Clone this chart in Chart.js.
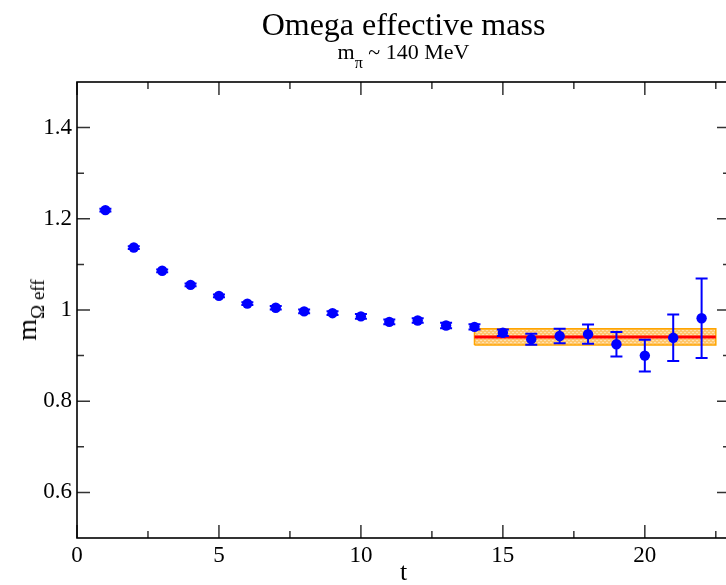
<!DOCTYPE html>
<html>
<head>
<meta charset="utf-8">
<script src="https://cdn.jsdelivr.net/npm/chart.js@4.4.1/dist/chart.umd.min.js"></script>
<style>
  html, body { margin:0; padding:0; background:#fff; overflow:hidden; }
  #wrap { position:relative; width:726px; height:585px; overflow:hidden; background:#fff; }
  #cv { position:absolute; left:0; top:0; }
  .txt { position:absolute; font-family:"Liberation Serif","Times New Roman",serif; color:#000; white-space:nowrap; }
  #title { left:0; width:807px; text-align:center; top:8px; font-size:32px; line-height:32px; }
  #subtitle { left:0; width:807px; text-align:center; top:41px; font-size:22px; line-height:22px; }
  #subtitle sub { font-size:16px; vertical-align:-9px; line-height:0; }
  #xlabel { left:0; width:807px; text-align:center; top:559px; font-size:26px; line-height:26px; }
  #ylabel { left:27px; top:310px; font-size:28px; line-height:28px; transform:translate(-50%,-50%) rotate(-90deg); }
  #ylabel sub { font-size:19px; vertical-align:-8px; line-height:0; }
</style>
</head>
<body>
<div id="wrap">
  <canvas id="cv" width="740" height="585" style="width:740px;height:585px"></canvas>
  <div class="txt" id="title">Omega effective mass</div>
  <div class="txt" id="subtitle">m<sub>π</sub> ~ 140 MeV</div>
  <div class="txt" id="xlabel">t</div>
  <div class="txt" id="ylabel">m<sub>Ω eff</sub></div>
</div>
<script>
// ---- data ----
const tValues = [1,2,3,4,5,6,7,8,9,10,11,12,13,14,15,16,17,18,19,20,21,22];
const mEff    = [1.219,1.137,1.086,1.055,1.031,1.014,1.005,0.997,0.993,0.986,0.974,0.977,0.966,0.963,0.950,0.936,0.943,0.947,0.925,0.900,0.939,0.982];
const mErr    = [0.003,0.003,0.003,0.003,0.003,0.003,0.004,0.004,0.004,0.005,0.005,0.005,0.006,0.006,0.007,0.012,0.016,0.021,0.027,0.035,0.051,0.087];
const fitRange = [14, 22.5];
const fitValue = 0.941;
const fitLow   = 0.923;
const fitHigh  = 0.959;
const xMajorTicks = [0,5,10,15,20];
const xMinorTicks = [2.5,7.5,12.5,17.5,22.5];
const yMajorTicks = [0.6,0.8,1.0,1.2,1.4];
const yMinorTicks = [0.7,0.9,1.1,1.3];
const yTickLabels = ["0.6","0.8","1","1.2","1.4"];
const xTickLabels = ["0","5","10","15","20"];
const xRange = [0, 23];
const yRange = [0.5, 1.5];

// band fill pattern
function makePattern() {
  const p = document.createElement('canvas');
  p.width = 4; p.height = 4;
  const c = p.getContext('2d');
  c.fillStyle = '#FFC76E';
  c.fillRect(0,0,4,4);
  c.fillStyle = '#FFE2B0';
  c.fillRect(0,0,2,1);
  c.fillRect(2,2,2,1);
  return c.createPattern(p, 'repeat');
}

const pts = tValues.map((t,i)=>({x:t, y:mEff[i]}));

const errorBars = {
  id:'errorBars',
  afterDatasetsDraw(chart) {
    const xs = chart.scales.x, ys = chart.scales.y, ctx = chart.ctx;
    ctx.save();
    ctx.strokeStyle = '#0000FF';
    ctx.lineWidth = 2;
    const cap = 6;
    tValues.forEach((t,i)=>{
      const px = xs.getPixelForValue(t);
      const top = ys.getPixelForValue(mEff[i]+mErr[i]);
      const bot = ys.getPixelForValue(mEff[i]-mErr[i]);
      ctx.beginPath();
      ctx.moveTo(px, top); ctx.lineTo(px, bot);
      ctx.moveTo(px-cap, top); ctx.lineTo(px+cap, top);
      ctx.moveTo(px-cap, bot); ctx.lineTo(px+cap, bot);
      ctx.stroke();
    });
    ctx.restore();
  }
};

const frameTicks = {
  id:'frameTicks',
  afterDraw(chart) {
    const a = chart.chartArea, xs = chart.scales.x, ys = chart.scales.y, ctx = chart.ctx;
    ctx.save();
    ctx.strokeStyle = '#333';
    ctx.lineWidth = 1.5;
    ctx.beginPath();
    const major = 13, minor = 7;
    xMajorTicks.forEach(v=>{ const p = xs.getPixelForValue(v);
      ctx.moveTo(p,a.bottom); ctx.lineTo(p,a.bottom-major);
      ctx.moveTo(p,a.top); ctx.lineTo(p,a.top+major); });
    xMinorTicks.forEach(v=>{ const p = xs.getPixelForValue(v);
      ctx.moveTo(p,a.bottom); ctx.lineTo(p,a.bottom-minor);
      ctx.moveTo(p,a.top); ctx.lineTo(p,a.top+minor); });
    yMajorTicks.forEach(v=>{ const p = ys.getPixelForValue(v);
      ctx.moveTo(a.left,p); ctx.lineTo(a.left+major,p);
      ctx.moveTo(a.right,p); ctx.lineTo(a.right-major,p); });
    yMinorTicks.forEach(v=>{ const p = ys.getPixelForValue(v);
      ctx.moveTo(a.left,p); ctx.lineTo(a.left+minor,p);
      ctx.moveTo(a.right,p); ctx.lineTo(a.right-minor,p); });
    ctx.stroke();
    ctx.strokeStyle = '#000';
    ctx.lineWidth = 1.6;
    ctx.strokeRect(a.left, a.top, a.right-a.left, a.bottom-a.top);
    ctx.restore();
  }
};

const ctx = document.getElementById('cv').getContext('2d');
new Chart(ctx, {
  type:'scatter',
  data:{
    datasets:[
      { label:'m_eff', data:pts, pointRadius:5.2, pointHoverRadius:5.2, pointBackgroundColor:'#0000FF', pointBorderColor:'#0000FF', pointBorderWidth:0, showLine:false },
      { label:'fit', data:fitRange.map(x=>({x, y:fitValue})), showLine:true, borderColor:'#FF0000', borderWidth:3, pointRadius:0, fill:false },
      { label:'band edge', data:[{x:fitRange[0],y:fitLow},{x:fitRange[0],y:fitHigh},{x:fitRange[1],y:fitHigh},{x:fitRange[1],y:fitLow},{x:fitRange[0],y:fitLow}], showLine:true, borderColor:'#FFA500', borderWidth:1.5, pointRadius:0, fill:false, tension:0 },
      { label:'band hi', data:fitRange.map(x=>({x, y:fitHigh})), showLine:true, borderWidth:0, borderColor:'rgba(0,0,0,0)', pointRadius:0, fill:'+1', backgroundColor:makePattern() },
      { label:'band lo', data:fitRange.map(x=>({x, y:fitLow})), showLine:true, borderWidth:0, borderColor:'rgba(0,0,0,0)', pointRadius:0, fill:false }
    ]
  },
  options:{
    responsive:false,
    animation:false,
    devicePixelRatio:1,
    layout:{ padding:{ left:0, top:82, right:10, bottom:0 } },
    plugins:{ legend:{display:false}, tooltip:{enabled:false}, title:{display:false} },
    scales:{
      x:{
        type:'linear', min:xRange[0], max:xRange[1],
        grid:{ display:false, drawTicks:false }, border:{ display:false },
        afterBuildTicks(s){ s.ticks = xMajorTicks.map(v=>({value:v})); },
        afterFit(s){ s.height = 47; },
        ticks:{ padding:4, maxRotation:0, autoSkip:false, color:'#000',
          font:{ family:'"Liberation Serif", serif', size:23 },
          callback(v){ const i = xMajorTicks.indexOf(v); return i>=0 ? xTickLabels[i] : ''; } }
      },
      y:{
        type:'linear', min:yRange[0], max:yRange[1],
        grid:{ display:false, drawTicks:false }, border:{ display:false },
        afterBuildTicks(s){ s.ticks = yMajorTicks.map(v=>({value:v})); },
        afterFit(s){ s.width = 77; },
        ticks:{ padding:5, autoSkip:false, color:'#000',
          font:{ family:'"Liberation Serif", serif', size:23 },
          callback(v){ const i = yMajorTicks.findIndex(t=>Math.abs(t-v)<1e-9); return i>=0 ? yTickLabels[i] : ''; } }
      }
    }
  },
  plugins:[errorBars, frameTicks]
});
</script>
</body>
</html>
